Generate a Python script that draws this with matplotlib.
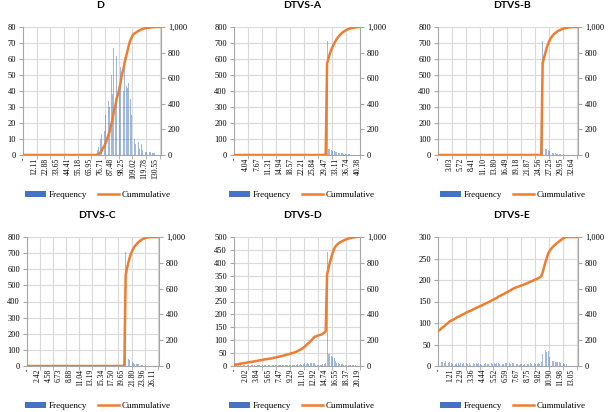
"""
Histogram + cumulative curve for D and the five DTVS variants (2x3 grid)
"""
import numpy as np
import matplotlib
matplotlib.use("Agg")
import matplotlib.pyplot as plt
from matplotlib.ticker import FixedLocator, FuncFormatter, MultipleLocator
from matplotlib.patches import Patch
from matplotlib.lines import Line2D

## bin labels shown on the x axes (every 8th bin)
d_labels = ["-", "12.11", "22.88", "33.65", "44.41", "55.18", "65.95", "76.71",
            "87.48", "98.25", "109.02", "119.78", "130.55"]
a_labels = ["-", "4.04", "7.67", "11.31", "14.94", "18.57", "22.21", "25.84",
            "29.47", "33.11", "36.74", "40.38"]
b_labels = ["-", "3.03", "5.72", "8.41", "11.10", "13.80", "16.49", "19.18",
            "21.87", "24.56", "27.25", "29.95", "32.64"]
c_labels = ["-", "2.42", "4.58", "6.73", "8.88", "11.04", "13.19", "15.34",
            "17.50", "19.65", "21.80", "23.96", "26.11"]
dd_labels = ["-", "2.02", "3.84", "5.65", "7.47", "9.29", "11.10", "12.92",
             "14.74", "16.55", "18.37", "20.19"]
e_labels = ["-", "1.21", "2.29", "3.36", "4.44", "5.52", "6.59", "7.67",
            "8.75", "9.82", "10.90", "11.98", "13.05"]

## frequencies: number of bins, first non-empty bin, counts from there on
d_bins, d_first = 101, 54
d_freq = [3, 5, 10, 13, 24, 15, 25, 28, 34, 30, 50, 38, 67, 35, 62, 34, 43, 55,
          63, 40, 55, 43, 42, 45, 35, 25, 20, 10, 7, 6, 8, 4, 7, 3, 4, 2, 2, 1,
          2, 2, 1, 1, 1]

a_bins, a_first = 90, 66
a_freq = [715, 40, 38, 30, 25, 22, 20, 18, 15, 13, 11, 10, 8, 7, 6, 5, 4, 3, 3,
          2, 2, 1, 2]

b_bins, b_first = 101, 75
b_freq = [715, 45, 40, 40, 30, 25, 20, 15, 12, 10, 9, 7, 6, 5, 4, 4, 3, 3, 2, 2,
          1, 1, 1]

c_bins, c_first = 101, 75
c_freq = [705, 50, 45, 38, 30, 25, 20, 15, 13, 11, 10, 8, 7, 6, 5, 4, 3, 2, 1,
          1, 1]

dd_bins, dd_first = 90, 0
dd_freq = [10,
           2, 1, 2, 3, 1, 2, 2, 1, 3, 2, 1, 2, 2, 2, 1, 3, 2, 2, 1, 2, 3, 2, 1,
           2, 2, 1, 3, 2,
           3, 2, 3, 2, 3, 2, 3,
           3, 4, 2, 3, 4, 3, 2, 4,
           5, 6, 4, 7, 5,
           8, 10, 9, 11, 8,
           12, 10, 13, 12,
           4, 3, 5, 3, 3,
           6, 9, 10,
           440,
           48, 45, 40, 35, 30, 20, 12, 10, 8, 6, 6, 5, 5, 4, 4, 3, 3, 2, 2, 2,
           1, 1]

e_bins, e_first = 101, 0
e_freq = [274,
          8, 10, 9, 7, 11, 9, 8, 10,
          6, 4, 7, 5, 8, 6, 3, 7, 5, 6,
          5, 7, 4, 6, 3, 5, 7, 4, 6,
          4, 6, 5, 3, 7, 5, 6, 4, 5, 6,
          6, 5, 7, 4, 6, 8, 5, 6, 5,
          5, 7, 6, 4, 8, 5, 6, 7, 4, 5,
          4, 3, 5, 4, 3, 5, 4,
          5, 4, 6, 5, 3, 6, 4, 5, 6, 5,
          10, 27, 42, 38, 33, 35, 20, 15, 12, 11, 10, 9, 9, 9, 8, 8, 7, 5, 5]

titles = ["D", "DTVS-A", "DTVS-B", "DTVS-C", "DTVS-D", "DTVS-E"]
left_max = [80, 800, 800, 800, 500, 300]
left_step = [10, 100, 100, 100, 50, 50]

# layout in pixels: plot box (left, top, right, bottom), title centre, legend centre
boxes = [(23, 27, 161, 155), (234, 27, 360, 155), (438, 27, 578, 155),
         (27, 237, 159, 366), (234, 237, 360, 366), (438, 237, 578, 366)]
title_pos = [(100, 6), (302, 6), (512, 6), (97, 216), (302, 216), (512, 216)]
legend_pos = [(98, 195), (302, 195), (513, 195), (98, 406), (302, 406), (513, 406)]

W, H = 614, 412
BLUE, ORANGE = "#4472C4", "#ED7D31"
GRID, AXIS = "#d9d9d9", "#a6a6a6"
SERIF = "Liberation Serif"

fig = plt.figure(figsize=(W / 100, H / 100), dpi=100)

series = [(d_bins, d_first, d_freq, d_labels), (a_bins, a_first, a_freq, a_labels),
          (b_bins, b_first, b_freq, b_labels), (c_bins, c_first, c_freq, c_labels),
          (dd_bins, dd_first, dd_freq, dd_labels), (e_bins, e_first, e_freq, e_labels)]

thousands = FuncFormatter(lambda v, p: f"{int(v):,}")

for i, (nbins, first, vals, labels) in enumerate(series):
    freq = np.zeros(nbins)
    freq[first:first + len(vals)] = vals
    cum = np.cumsum(freq)
    x = np.arange(nbins)

    l, t, r, b = boxes[i]
    ax = fig.add_axes([l / W, 1 - b / H, (r - l) / W, (b - t) / H])
    ax.bar(x, freq, width=0.6, color=BLUE, alpha=0.5, linewidth=0)
    ax.set_xlim(-0.5, nbins - 0.5)
    ax.set_ylim(0, left_max[i])
    ax.yaxis.set_major_locator(MultipleLocator(left_step[i]))
    ax.set_axisbelow(True)
    ax.grid(axis="y", color=GRID, linewidth=0.8)

    # labels every 8 bins, ticks + vertical gridlines every 10 bins
    ax.xaxis.set_major_locator(FixedLocator(np.arange(len(labels)) * 8))
    ax.set_xticklabels(labels, rotation=90, fontsize=5.5, family=SERIF)
    ax.tick_params(axis="x", which="major", length=0, pad=2)
    ax.xaxis.set_minor_locator(FixedLocator(np.arange(9.5, nbins, 10)))
    ax.tick_params(axis="x", which="minor", length=3, color=AXIS)
    ax.grid(axis="x", which="minor", color=GRID, linewidth=0.8)

    ax.tick_params(axis="y", length=3, color=AXIS, labelsize=6, pad=2)
    for lab in ax.get_yticklabels():
        lab.set_family(SERIF)
    for side in ["top", "right"]:
        ax.spines[side].set_visible(False)
    for side in ["left", "bottom"]:
        ax.spines[side].set_color(AXIS)
        ax.spines[side].set_linewidth(0.8)

    ax2 = ax.twinx()
    ax2.plot(x, cum, color=ORANGE, linewidth=1.8, solid_capstyle="round")
    ax2.set_ylim(0, 1000)
    ax2.yaxis.set_major_locator(MultipleLocator(200))
    ax2.yaxis.set_major_formatter(thousands)
    ax2.tick_params(axis="y", length=3, color=AXIS, labelsize=6, pad=2)
    for lab in ax2.get_yticklabels():
        lab.set_family(SERIF)
    for side in ["top", "left", "bottom"]:
        ax2.spines[side].set_visible(False)
    ax2.spines["right"].set_color(AXIS)
    ax2.spines["right"].set_linewidth(0.8)

    tx, ty = title_pos[i]
    fig.text(tx / W, 1 - ty / H, titles[i], ha="center", va="center",
             fontsize=7.5, fontweight="bold", family="Lato")

    lx, ly = legend_pos[i]
    handles = [Patch(facecolor=BLUE, edgecolor="none"),
               Line2D([], [], color=ORANGE, linewidth=1.8)]
    fig.legend(handles, ["Frequency", "Cummulative"], loc="center",
               bbox_to_anchor=(lx / W, 1 - ly / H), ncol=2, frameon=False,
               prop={"family": SERIF, "size": 6.5}, handlelength=2.3,
               handleheight=0.6, handletextpad=0.3, columnspacing=1.2,
               borderpad=0, borderaxespad=0)

fig.savefig("out.png", dpi=100)
